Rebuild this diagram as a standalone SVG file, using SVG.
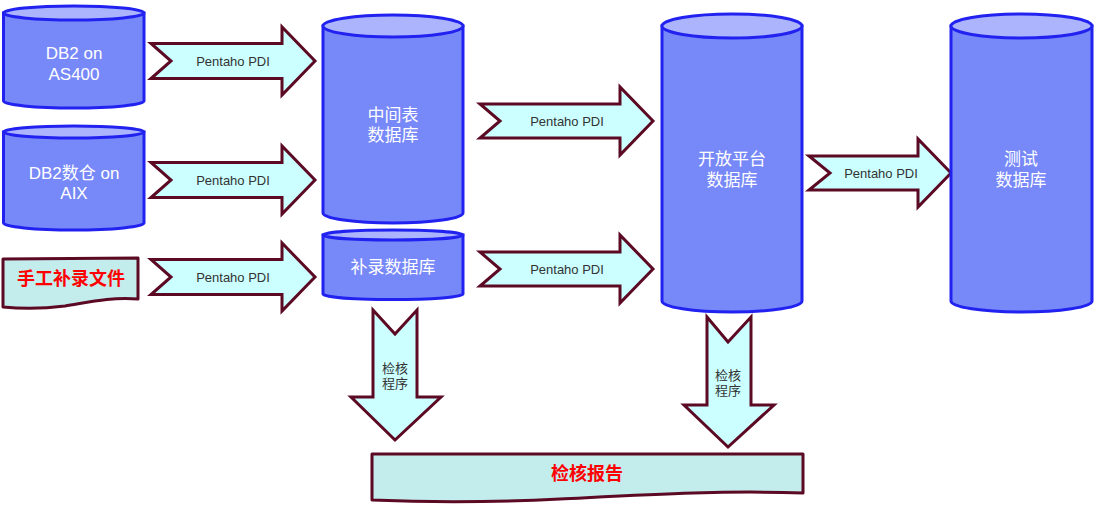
<svg xmlns="http://www.w3.org/2000/svg" width="1116" height="510" viewBox="0 0 1116 510">
<style>
.body{fill:#7788f9;stroke:#2222f0;stroke-width:3}
.top{fill:#abb4fc;stroke:#2222f0;stroke-width:3}
.arr{fill:#ccffff;stroke:#5c0a24;stroke-width:3;stroke-linejoin:miter}
.doc{fill:#c3ecec;stroke:#5c0a24;stroke-width:3;stroke-linejoin:round}
.wt{font-family:"Liberation Sans","Noto Sans CJK SC",sans-serif;font-size:17px;fill:#ffffff;text-anchor:middle}
.lbl{font-family:"Liberation Sans","Noto Sans CJK SC",sans-serif;font-size:13px;fill:#333333;text-anchor:middle}
.red{font-family:"Liberation Sans","Noto Sans CJK SC",sans-serif;font-size:18px;font-weight:bold;fill:#ff0000;text-anchor:middle}
</style>
<rect width="1116" height="510" fill="#ffffff"/>
<g id="connectors">
<path class="arr" d="M151,43.5 L282,43.5 L282,27 L315,61 L282,95 L282,78.5 L151,78.5 L171,61 Z"/>
<text class="lbl" x="233" y="65.5">Pentaho PDI</text>
<path class="arr" d="M151,162.5 L282,162.5 L282,146 L315,180 L282,214 L282,197.5 L151,197.5 L171,180 Z"/>
<text class="lbl" x="233" y="184.5">Pentaho PDI</text>
<path class="arr" d="M151,259.5 L282,259.5 L282,243 L315,277 L282,311 L282,294.5 L151,294.5 L171,277 Z"/>
<text class="lbl" x="233" y="281.5">Pentaho PDI</text>
<path class="arr" d="M480,104 L620,104 L620,87 L653,121 L620,155 L620,138 L480,138 L500,121 Z"/>
<text class="lbl" x="567" y="125.5">Pentaho PDI</text>
<path class="arr" d="M480,252 L620,252 L620,235 L653,269 L620,303 L620,286 L480,286 L500,269 Z"/>
<text class="lbl" x="567" y="273.5">Pentaho PDI</text>
<path class="arr" d="M809,156 L918,156 L918,139 L951,173 L918,207 L918,190 L809,190 L830,173 Z"/>
<text class="lbl" x="881" y="177.5">Pentaho PDI</text>
<path class="arr" d="M373,310 L395,334 L417,310 L417,397 L441,397 L395,440 L351,397 L373,397 Z"/>
<text class="lbl" x="395" y="372.5">检核</text>
<text class="lbl" x="395" y="387.5">程序</text>
<path class="arr" d="M707,317 L728,342 L751,317 L751,405 L774,405 L728,447 L684,405 L707,405 Z"/>
<text class="lbl" x="728" y="379.5">检核</text>
<text class="lbl" x="728" y="394.5">程序</text>
</g>
<g id="db2-as400">
<path class="body" d="M3.5,13 L3.5,101 A70.25,7 0 0 0 144,101 L144,13 Z"/>
<ellipse class="top" cx="73.75" cy="13" rx="70.25" ry="7"/>
<text class="wt" x="74" y="59">DB2 on</text>
<text class="wt" x="74" y="80">AS400</text>
</g>
<g id="db2-aix">
<path class="body" d="M3.5,132 L3.5,223 A70.25,7 0 0 0 144,223 L144,132 Z"/>
<ellipse class="top" cx="73.75" cy="132" rx="70.25" ry="6"/>
<text class="wt" x="74" y="179">DB2数仓 on</text>
<text class="wt" x="74" y="199">AIX</text>
</g>
<g id="manual-file">
<path class="doc" d="M3,259 L138,258 L138,299 C110,297 90,302 65,306 C42,309 22,309 3,307 Z"/>
<text class="red" x="71" y="285">手工补录文件</text>
</g>
<g id="mid-db">
<path class="body" d="M323,26 L323,213 A70,10 0 0 0 463,213 L463,26 Z"/>
<ellipse class="top" cx="393" cy="26" rx="70" ry="11"/>
<text class="wt" x="393" y="121">中间表</text>
<text class="wt" x="393" y="141">数据库</text>
</g>
<g id="supp-db">
<path class="body" d="M323,235 L323,294 A70,5.5 0 0 0 463,294 L463,235 Z"/>
<ellipse class="top" cx="393" cy="235" rx="70" ry="5"/>
<text class="wt" x="393" y="273">补录数据库</text>
</g>
<g id="open-db">
<path class="body" d="M662,26 L662,301 A70,11 0 0 0 802,301 L802,26 Z"/>
<ellipse class="top" cx="732" cy="26" rx="70" ry="12"/>
<text class="wt" x="732" y="165">开放平台</text>
<text class="wt" x="732" y="186">数据库</text>
</g>
<g id="test-db">
<path class="body" d="M951,26 L951,301 A70.5,11 0 0 0 1092,301 L1092,26 Z"/>
<ellipse class="top" cx="1021.5" cy="26" rx="70.5" ry="12"/>
<text class="wt" x="1021" y="165">测试</text>
<text class="wt" x="1021" y="186">数据库</text>
</g>
<g id="report">
<path class="doc" d="M372,454 L803,454 L803,493 C720,490 640,495 560,499 C480,503 420,502 372,500 Z"/>
<text class="red" x="587" y="480">检核报告</text>
</g>
</svg>
